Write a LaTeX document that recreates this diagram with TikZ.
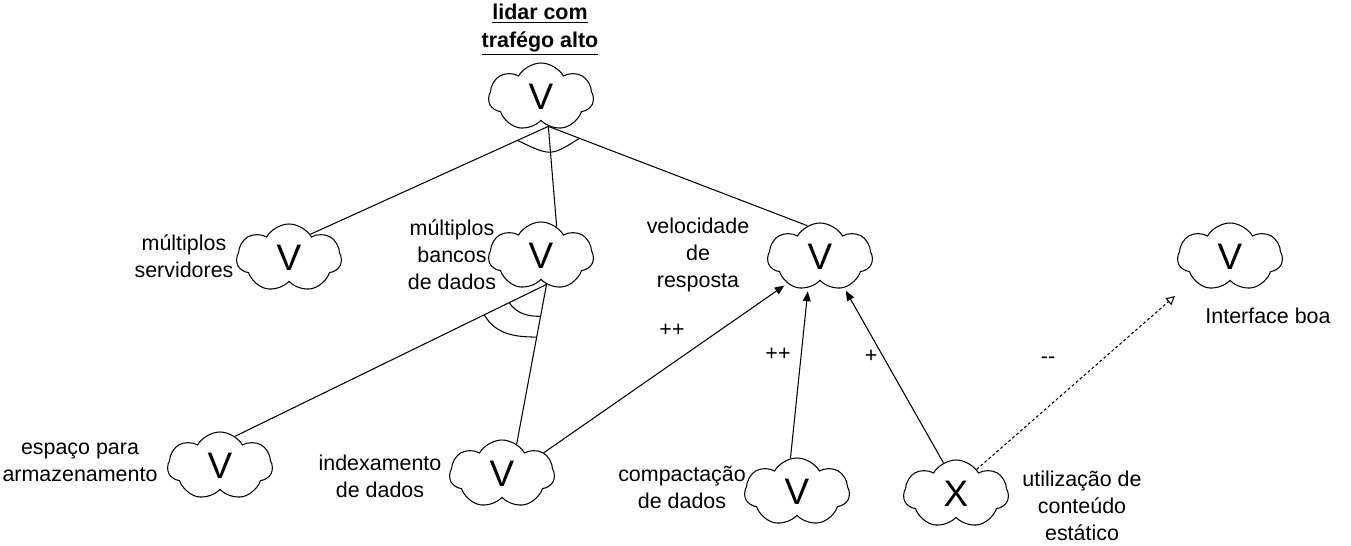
\documentclass[tikz,border=0pt]{standalone}
\usepackage{fontspec}
\setmainfont{Liberation Sans}
\usetikzlibrary{arrows.meta,calc,shapes.symbols}

\tikzset{
  meta/.style={cloud, draw, cloud puffs=7, cloud puff arc=120, cloud ignores aspect,
    minimum width=2.1cm, minimum height=1.36cm, inner sep=0pt,
    font=\fontsize{21}{21}\selectfont},
  rotulo/.style={align=center, font=\fontsize{12.2}{15.3}\selectfont},
  contrib/.style={-{Triangle[length=5.5pt,width=4.5pt]}, shorten >=2pt},
  fraco/.style={-{Triangle[open,length=5pt,width=5pt]}, dash pattern=on 1.6pt off 1.4pt}
}

\begin{document}
\begin{tikzpicture}[x=0.02cm, y=-0.02cm, line width=0.6pt]
\useasboundingbox (0,0) rectangle (1351,546);
% objetivo principal
\node[meta] (top) at (541,97) {V};
\node[rotulo, font=\bfseries\fontsize{12.2}{16}\selectfont] (titulo) at (540,30)
  {\underline{lidar com}\\\underline{trafégo alto}};
% submetas
\node[meta] (serv) at (289,258) {V};
\node[rotulo] (lserv) at (184,256) {múltiplos\\servidores};
\node[meta] (banc) at (541,256) {V};
\node[rotulo] (lbanc) at (452,255) {múltiplos\\bancos\\de dados};
\node[meta] (vel) at (820,257) {V};
\node[rotulo] (lvel) at (698,255) {velocidade\\de\\resposta};
\node[meta] (intf) at (1230,257) {V};
\node[rotulo] (lintf) at (1268,316) {Interface boa};
% operacionalizacoes
\node[meta] (arm) at (220,466) {V};
\node[rotulo] (larm) at (80,462) {espaço para\\armazenamento};
\node[meta] (idx) at (502,474) {V};
\node[rotulo] (lidx) at (380,476) {indexamento\\de dados};
\node[meta] (comp) at (797,492) {V};
\node[rotulo] (lcomp) at (682,487) {compactação\\de dados};
\node[meta] (stat) at (956,494) {X};
\node[rotulo] (lstat) at (1082,506) {utilização de\\conteúdo\\estático};
% decomposicao AND do topo
\coordinate (tb) at (top.-76);
\draw (tb) -- (serv.48);
\draw (tb) -- (banc.62);
\draw (tb) -- (vel.112);
\draw ($(tb)!0.13!(serv.48)$) .. controls ($(tb)!0.3!(banc.62)$) .. ($(tb)!0.12!(vel.112)$);
% decomposicao dos bancos
\coordinate (bb) at (banc.-79);
\draw (bb) -- (arm.63);
\draw (bb) -- (idx.64);
\draw ($(bb)!0.12!(arm.63)$) to[out=-55,in=180] ($(bb)!0.2!(idx.64)$);
\draw ($(bb)!0.2!(arm.63)$) to[out=-60,in=180] ($(bb)!0.33!(idx.64)$);
% contribuicoes
\draw[contrib] (idx.27) -- (vel.-141);
\draw[contrib] (comp.101) -- (vel.-111);
\draw[contrib] (stat.112) -- (vel.-52);
\draw[fraco, shorten >=14pt] (stat.50) -- (intf.-148);
\node[rotulo] (c1) at (672,330) {++};
\node[rotulo] (c2) at (778,354) {++};
\node[rotulo] (c3) at (871,356) {+};
\node[rotulo] (c4) at (1048,360) {{-}{-}};
\end{tikzpicture}
\end{document}
